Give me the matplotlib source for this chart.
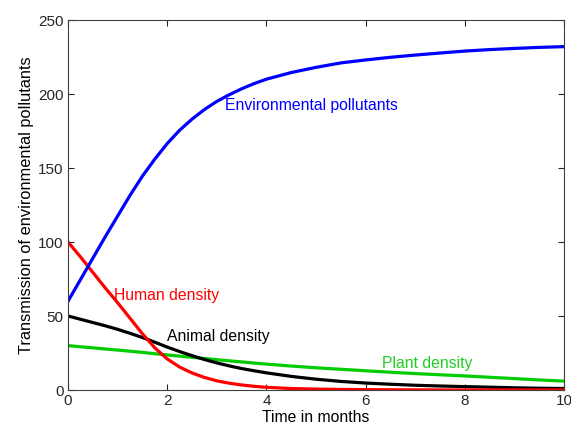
import numpy as np
import matplotlib.pyplot as plt

plt.rcParams['font.family'] = ['Liberation Sans', 'DejaVu Sans']

# time in months
t = [0, 0.25, 0.5, 0.75, 1, 1.25, 1.5, 1.75, 2, 2.25, 2.5, 2.75, 3, 3.25, 3.5, 3.75, 4,
     4.5, 5, 5.5, 6, 6.5, 7, 7.5, 8, 8.5, 9, 9.5, 10]

pollutants = [60, 74.5, 89, 103.5, 117.5, 131.5, 144.5, 156, 166.5, 175.5, 183, 189.5, 195, 199.5, 203.5, 207, 210,
              214.5, 218, 221, 223, 224.8, 226.3, 227.7, 229, 230, 230.8, 231.5, 232]
human = [100, 90, 79.5, 69, 59, 48.5, 38, 28.5, 21, 15.5, 11.5, 8.5, 6.2, 4.6, 3.4, 2.5, 1.8,
         1, 0.6, 0.4, 0.25, 0.15, 0.1, 0.05, 0, 0, 0, 0, 0]
animal = [50, 47.8, 45.6, 43.4, 41, 38.3, 35.5, 32.3, 29, 26, 23.2, 20.6, 18.3, 16.3, 14.5, 13, 11.6,
          9.2, 7.3, 5.8, 4.7, 3.9, 3.2, 2.7, 2.3, 1.9, 1.5, 1.2, 1]
plant = [30, 29.2, 28.5, 27.7, 27, 26.2, 25.4, 24.5, 23.7, 22.9, 22.1, 21.3, 20.5, 19.7, 19, 18.2, 17.5,
         16.2, 15, 14, 13, 12, 11.1, 10.3, 9.5, 8.6, 7.7, 6.8, 6]

fig = plt.figure(figsize=(5.71, 4.32), dpi=100)
ax = fig.add_axes([68/571, 1 - 390/432, (564-68)/571, (390-20)/432])

lw = 2.3
ax.plot(t, plant, color='#00cc00', linewidth=lw)
ax.plot(t, animal, color='black', linewidth=lw)
ax.plot(t, human, color='red', linewidth=lw)
ax.plot(t, pollutants, color='blue', linewidth=lw)

fs = 11.3
ax.text(3.17, 192.5, 'Environmental pollutants', color='blue', fontsize=fs, va='center')
ax.text(0.93, 64, 'Human density', color='red', fontsize=fs, va='center')
ax.text(2.0, 36, 'Animal density', color='black', fontsize=fs, va='center')
ax.text(6.33, 17.6, 'Plant density', color='#22cc22', fontsize=fs, va='center')

ax.set_xlim(0, 10)
ax.set_ylim(0, 250)
ax.set_xticks([0, 2, 4, 6, 8, 10])
ax.set_yticks([0, 50, 100, 150, 200, 250])
ax.tick_params(direction='in', top=True, right=True, labelsize=11, colors='#262626', length=4, pad=3)
for s in ax.spines.values():
    s.set_color('#404040')
    s.set_linewidth(0.8)

ax.set_xlabel('Time in months', fontsize=fs, labelpad=1)
ax.set_ylabel('Transmission of environmental pollutants', fontsize=11.8, labelpad=3)

fig.savefig('out.png', dpi=100)
